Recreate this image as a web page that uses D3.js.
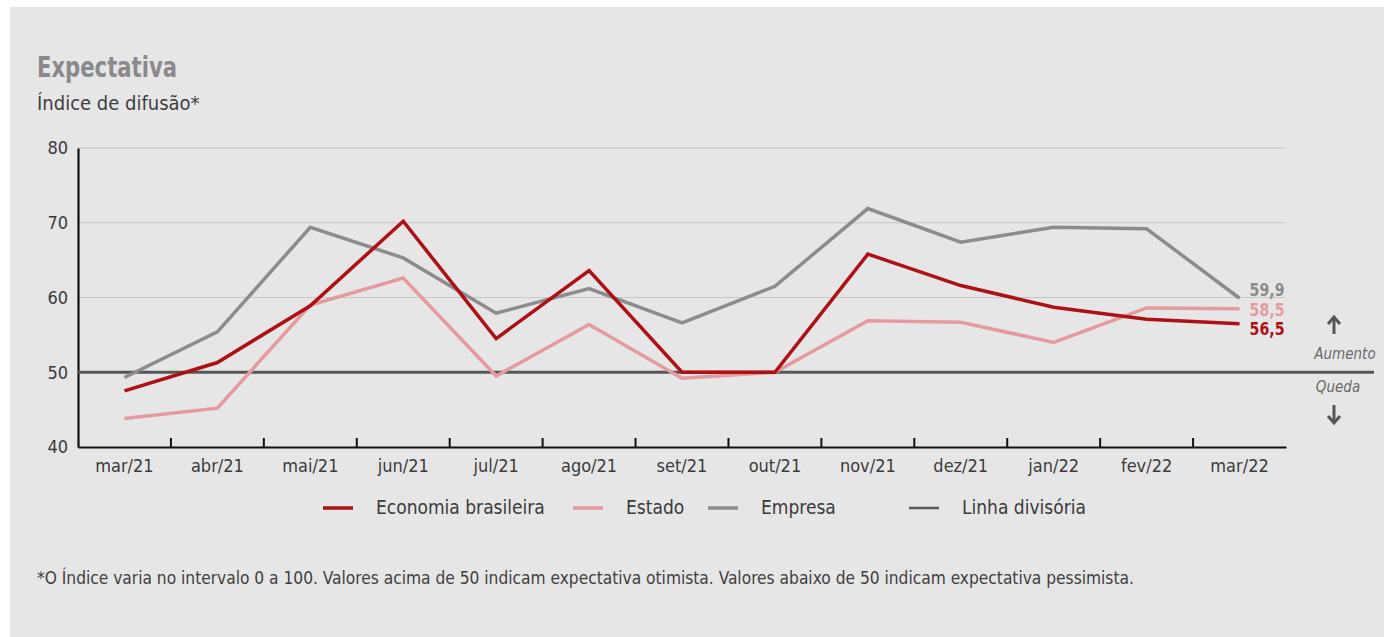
<!DOCTYPE html>
<html><head><meta charset="utf-8">
<script src="https://cdn.jsdelivr.net/npm/d3@7"></script>
<style>
html,body{margin:0;padding:0;background:#fff;}
svg{display:block;}
text{font-family:"Liberation Sans Narrow","DejaVu Sans Condensed","Roboto Condensed",sans-serif;}
</style></head>
<body>
<svg id="chart" width="1384" height="637"></svg>
<script>
const categories = ["mar/21","abr/21","mai/21","jun/21","jul/21","ago/21","set/21","out/21","nov/21","dez/21","jan/22","fev/22","mar/22"];
const economia = [47.5,51.3,58.9,70.2,54.5,63.6,50.0,50.0,65.8,61.6,58.7,57.1,56.5];
const estado   = [43.8,45.2,59.0,62.6,49.5,56.4,49.2,50.0,56.9,56.7,54.0,58.6,58.5];
const empresa  = [49.3,55.4,69.4,65.3,57.9,61.2,56.6,61.5,71.9,67.4,69.4,69.2,59.9];
const yTicks = [40,50,60,70,80];
const divisor = 50;
const seriesNames = ["Economia brasileira","Estado","Empresa","Linha divisória"];
const endLabels = ["56,5","58,5","59,9"];

(function(){
const colors = {eco:"#ad1015", est:"#e59b9e", emp:"#8c8b8e", div:"#565656"};
const font = '"Liberation Sans Narrow","DejaVu Sans Condensed",sans-serif';

const svg = d3.select("#chart");
svg.append("rect").attr("x",10).attr("y",7).attr("width",1374).attr("height",630).attr("fill","#e6e6e6");

const pl = 78, pr = 1286, pt = 148, pb = 447;
const x = d3.scaleBand().domain(categories).range([pl,pr]);
const y = d3.scaleLinear().domain([40,80]).range([pb,pt]);

// title
svg.append("text").attr("x",37).attr("y",77).text("Expectativa")
  .attr("font-size",28).attr("font-weight","bold").attr("fill","#8a898c")
  .attr("textLength",140).attr("lengthAdjust","spacingAndGlyphs");
svg.append("text").attr("x",37).attr("y",110).text("Índice de difusão*")
  .attr("font-size",20).attr("fill","#3e3e3e");

// gridlines
svg.append("g").selectAll("line").data(yTicks.filter(t=>t>40 && t!==divisor)).join("line")
  .attr("x1",pl).attr("x2",pr).attr("y1",d=>y(d)).attr("y2",d=>y(d))
  .attr("stroke","#c6c6c6").attr("stroke-width",1.2);

// y axis
const ya = svg.append("g").attr("transform",`translate(${pl},0)`)
  .call(d3.axisLeft(y).tickValues(yTicks).tickSize(0).tickPadding(10));
ya.select(".domain").attr("stroke","#111").attr("stroke-width",2.2);
ya.selectAll("text").attr("font-family",font).attr("font-size",18).attr("fill","#3a3a3a");

// x axis
const xa = svg.append("g").attr("transform",`translate(0,${pb})`)
  .call(d3.axisBottom(x).tickSize(0).tickPadding(12));
xa.select(".domain").attr("stroke","#111").attr("stroke-width",2.2);
xa.selectAll("text").attr("font-family",font).attr("font-size",18).attr("fill","#3a3a3a");
// inner ticks at band boundaries
svg.append("g").selectAll("line").data(categories.slice(1)).join("line")
  .attr("x1",d=>x(d)).attr("x2",d=>x(d)).attr("y1",pb).attr("y2",pb-9)
  .attr("stroke","#111").attr("stroke-width",2);

// division line
svg.append("line").attr("x1",pl).attr("x2",1374).attr("y1",y(divisor)).attr("y2",y(divisor))
  .attr("stroke",colors.div).attr("stroke-width",3);

const line = d3.line().x((d,i)=>x(categories[i])+x.bandwidth()/2).y(d=>y(d));
[[empresa,colors.emp],[estado,colors.est],[economia,colors.eco]].forEach(([data,c])=>{
  svg.append("path").datum(data).attr("d",line).attr("fill","none")
    .attr("stroke",c).attr("stroke-width",3.5).attr("stroke-linejoin","miter");
});

// end labels
const lx = x(categories[12])+x.bandwidth()/2 + 10;
[[colors.emp,endLabels[2],296],[colors.est,endLabels[1],315.5],[colors.eco,endLabels[0],335]].forEach(([c,t,yy])=>{
  svg.append("text").attr("x",lx).attr("y",yy).text(t)
    .attr("font-size",17).attr("font-weight","bold").attr("fill",c)
    .attr("textLength",35).attr("lengthAdjust","spacingAndGlyphs");
});

// Aumento / Queda
const ax = 1334;
function arrow(y1,y2){
  const g = svg.append("g").attr("stroke","#555").attr("stroke-width",3).attr("fill","none").attr("stroke-linecap","butt");
  g.append("line").attr("x1",ax).attr("x2",ax).attr("y1",y1).attr("y2",y2);
  const dir = y2<y1 ? 1 : -1;
  g.append("polyline").attr("points",`${ax-6},${y2+dir*7} ${ax},${y2} ${ax+6},${y2+dir*7}`);
}
arrow(334,317);
arrow(405,423);
svg.append("text").attr("x",1345).attr("y",359).attr("text-anchor","middle").text("Aumento")
  .attr("font-size",15).attr("font-style","italic").attr("fill","#6a6a6a");
svg.append("text").attr("x",1338).attr("y",392).attr("text-anchor","middle").text("Queda")
  .attr("font-size",15).attr("font-style","italic").attr("fill","#6a6a6a");

// legend
const legend = [
  {name:seriesNames[0], c:colors.eco, x:323, w:3.5},
  {name:seriesNames[1], c:colors.est, x:573, w:3.5},
  {name:seriesNames[2], c:colors.emp, x:708, w:3.5},
  {name:seriesNames[3], c:colors.div, x:909, w:2.5}
];
const lg = svg.append("g");
legend.forEach(l=>{
  lg.append("line").attr("x1",l.x).attr("x2",l.x+30).attr("y1",508).attr("y2",508)
    .attr("stroke",l.c).attr("stroke-width",l.w);
  lg.append("text").attr("x",l.x+53).attr("y",514).text(l.name)
    .attr("font-size",19).attr("fill","#3a3a3a");
});

// footnote
svg.append("text").attr("x",37).attr("y",584)
  .text("*O Índice varia no intervalo 0 a 100. Valores acima de 50 indicam expectativa otimista. Valores abaixo de 50 indicam expectativa pessimista.")
  .attr("font-size",17.2).attr("fill","#3e3e3e");
})();
</script>
</body></html>
